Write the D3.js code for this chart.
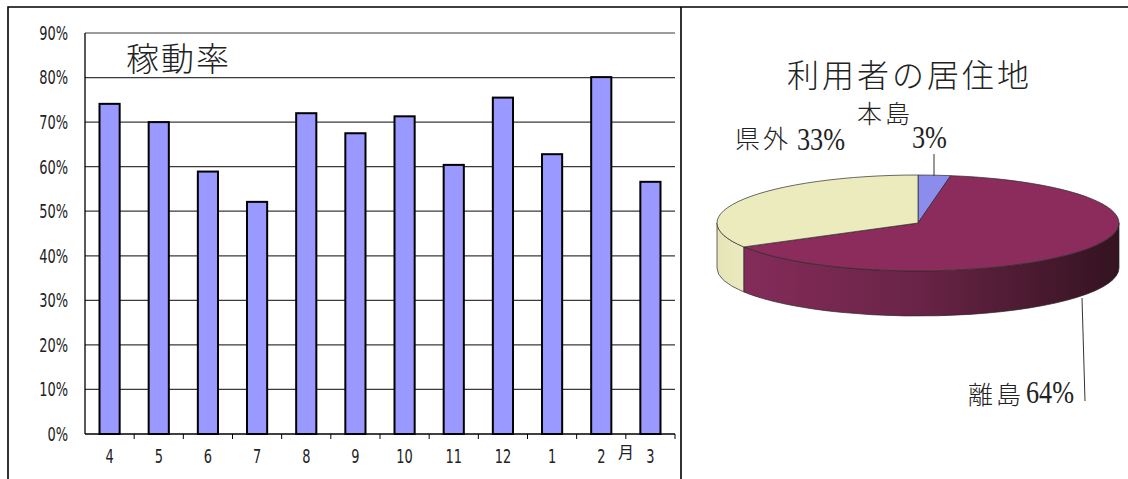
<!DOCTYPE html>
<html>
<head>
<meta charset="utf-8">
<script src="https://cdn.jsdelivr.net/npm/d3@7"></script>
<style>
  body { margin: 0; background: #fff; }
  svg { display: block; }
</style>
</head>
<body>
<div id="chart-area"></div>
<script>
const W = 1128, H = 479

// left: 稼動率 by month
const months = ['4', '5', '6', '7', '8', '9', '10', '11', '12', '1', '2', '3']
const rates = [74.1, 70.0, 58.9, 52.1, 72.0, 67.5, 71.3, 60.4, 75.5, 62.8, 80.1, 56.6]
const yTicks = [0, 10, 20, 30, 40, 50, 60, 70, 80, 90]

// right: 利用者の居住地
const places = ['本島', '離島', '県外']
const shares = [2.6, 64.1, 33.3]

const PLOT = { LEFT: 85, RIGHT: 675, TOP: 33, BOTTOM: 434 }

const svg = d3.select('#chart-area').append('svg')
    .attr('width', W)
    .attr('height', H)

const NUM_FONT = '"DejaVu Sans Condensed", "Liberation Sans", sans-serif'
const JP_FONT = '"Noto Sans CJK JP", sans-serif'
const SERIF = '"Liberation Serif", "DejaVu Serif", serif'

// tall, narrow text like the original fonts
const narrow = (sel, x, y, sx, sy) =>
    sel.attr('transform', `translate(${x},${y}) scale(${sx},${sy})`)

// frame
svg.append('path')
    .attr('d', `M8,${H} L8,7 L${W},7 M681,7 L681,${H}`)
    .attr('fill', 'none')
    .attr('stroke', '#000')
    .attr('stroke-width', 1.6)

// ---- bar chart ----
const x = d3.scaleBand()
    .domain(months)
    .range([PLOT.LEFT, PLOT.RIGHT])
    .paddingInner(0.59)
    .paddingOuter(0.295)

const y = d3.scaleLinear()
    .domain([0, 90])
    .range([PLOT.BOTTOM, PLOT.TOP])

const g = svg.append('g')

g.selectAll('line.grid')
    .data(yTicks.filter(d => d > 0))
    .enter().append('line')
    .attr('class', 'grid')
    .attr('x1', PLOT.LEFT)
    .attr('x2', PLOT.RIGHT)
    .attr('y1', d => y(d))
    .attr('y2', d => y(d))
    .attr('stroke', '#3a3a3a')
    .attr('stroke-width', 1.2)

g.selectAll('text.ytick')
    .data(yTicks)
    .enter().append('text')
    .attr('class', 'ytick')
    .each(function (d) { narrow(d3.select(this), 68, y(d), 0.9, 1.2) })
    .attr('dy', '0.36em')
    .attr('text-anchor', 'end')
    .attr('font-family', NUM_FONT)
    .attr('font-size', 16)
    .attr('fill', '#222')
    .text(d => d + '%')

g.append('text')
    .attr('x', 126)
    .attr('y', 57)
    .attr('dominant-baseline', 'central')
    .attr('font-family', JP_FONT)
    .attr('font-size', 33)
    .attr('font-weight', 300)
    .attr('letter-spacing', 2)
    .attr('fill', '#222')
    .text('稼動率')

g.selectAll('rect.bar')
    .data(rates)
    .enter().append('rect')
    .attr('class', 'bar')
    .attr('x', (d, i) => x(months[i]))
    .attr('width', x.bandwidth())
    .attr('y', d => y(d))
    .attr('height', d => y(0) - y(d))
    .attr('fill', '#9999ff')
    .attr('stroke', '#000')
    .attr('stroke-width', 2)

// axes lines
g.append('line')
    .attr('x1', PLOT.LEFT).attr('x2', PLOT.LEFT)
    .attr('y1', PLOT.TOP).attr('y2', PLOT.BOTTOM)
    .attr('stroke', '#000').attr('stroke-width', 1.3)
g.append('line')
    .attr('x1', PLOT.LEFT).attr('x2', PLOT.RIGHT)
    .attr('y1', PLOT.BOTTOM).attr('y2', PLOT.BOTTOM)
    .attr('stroke', '#000').attr('stroke-width', 1.3)

const step = x.step()
g.selectAll('line.xtick')
    .data(months)
    .enter().append('line')
    .attr('class', 'xtick')
    .attr('x1', (d, i) => PLOT.LEFT + step * (i + 1))
    .attr('x2', (d, i) => PLOT.LEFT + step * (i + 1))
    .attr('y1', PLOT.BOTTOM)
    .attr('y2', PLOT.BOTTOM + 5)
    .attr('stroke', '#000')

g.selectAll('text.xlabel')
    .data(months)
    .enter().append('text')
    .attr('class', 'xlabel')
    .each(function (d) { narrow(d3.select(this), x(d) + x.bandwidth() / 2, 456, 0.9, 1.2) })
    .attr('dy', '0.36em')
    .attr('text-anchor', 'middle')
    .attr('font-family', NUM_FONT)
    .attr('font-size', 16)
    .attr('fill', '#222')
    .text(d => d)

g.append('text')
    .attr('x', 626)
    .attr('y', 452)
    .attr('dy', '0.36em')
    .attr('text-anchor', 'middle')
    .attr('font-family', JP_FONT)
    .attr('font-size', 16)
    .attr('fill', '#222')
    .text('月')

// ---- 3D pie ----
const P = { cx: 918, cy: 223, rx: 201, ry: 48, depth: 45 }
const pt = (a, dy = 0) => [P.cx + P.rx * Math.sin(a), P.cy - P.ry * Math.cos(a) + dy]

const arcs = d3.pie().sort(null).startAngle(0).endAngle(2 * Math.PI)(shares)
const topColors = ['#8c8cec', '#8b2c5c', '#ebebbd']

const defs = svg.append('defs')
const gr = defs.append('linearGradient')
    .attr('id', 'sideRed')
    .attr('gradientUnits', 'userSpaceOnUse')
    .attr('x1', 745).attr('x2', P.cx + P.rx).attr('y1', 0).attr('y2', 0)
gr.append('stop').attr('offset', 0).attr('stop-color', '#842c5a')
gr.append('stop').attr('offset', 0.45).attr('stop-color', '#6a2447')
gr.append('stop').attr('offset', 1).attr('stop-color', '#341320')
const gy = defs.append('linearGradient')
    .attr('id', 'sideYel')
    .attr('gradientUnits', 'userSpaceOnUse')
    .attr('x1', P.cx - P.rx).attr('x2', 745).attr('y1', 0).attr('y2', 0)
gy.append('stop').attr('offset', 0).attr('stop-color', '#e4e4b6')
gy.append('stop').attr('offset', 1).attr('stop-color', '#ecebc0')
const sideFills = ['#6f6fc8', 'url(#sideRed)', 'url(#sideYel)']

const pie = svg.append('g')

// sides (front half only)
arcs.forEach((a, i) => {
    const s0 = Math.max(a.startAngle, Math.PI / 2)
    const s1 = Math.min(a.endAngle, 3 * Math.PI / 2)
    if (s1 <= s0) return
    const p0 = pt(s0), p1 = pt(s1)
    const q0 = pt(s0, P.depth), q1 = pt(s1, P.depth)
    const d = `M${p0} A${P.rx},${P.ry} 0 0 1 ${p1} L${q1} A${P.rx},${P.ry} 0 0 0 ${q0} Z`
    pie.append('path')
        .attr('d', d)
        .attr('fill', sideFills[i])
        .attr('stroke', '#2a2a2a')
        .attr('stroke-width', 0.7)
})

// tops
arcs.forEach((a, i) => {
    const p0 = pt(a.startAngle), p1 = pt(a.endAngle)
    const large = a.endAngle - a.startAngle > Math.PI ? 1 : 0
    const d = `M${P.cx},${P.cy} L${p0} A${P.rx},${P.ry} 0 ${large} 1 ${p1} Z`
    pie.append('path')
        .attr('d', d)
        .attr('fill', topColors[i])
        .attr('stroke', '#2a2a2a')
        .attr('stroke-width', 0.7)
})

svg.append('text')
    .attr('x', 787)
    .attr('y', 73)
    .attr('dominant-baseline', 'central')
    .attr('font-family', JP_FONT)
    .attr('font-size', 32)
    .attr('font-weight', 300)
    .attr('letter-spacing', 3)
    .attr('fill', '#222')
    .text('利用者の居住地')

const pct = v => Math.round(v) + '%'

// labels
const labels = [
    { name: places[0], nx: 857, px: 912, ny: 112, py: 137, lead: [[934, 154], [934, 176]] },
    { name: places[1], nx: 968, px: 1026, ny: 393, py: 392, lead: [[1082, 298], [1085, 401]] },
    { name: places[2], nx: 735, px: 797, ny: 137, py: 139, lead: null }
]

labels.forEach((l, i) => {
    svg.append('text')
        .attr('x', l.nx).attr('y', l.ny)
        .attr('dominant-baseline', 'central')
        .attr('font-family', JP_FONT)
        .attr('font-size', 25)
        .attr('font-weight', 300)
        .attr('letter-spacing', 3)
        .attr('fill', '#222')
        .text(l.name)
    svg.append('text')
        .call(narrow, l.px, l.py, 0.82, 1)
        .attr('dominant-baseline', 'central')
        .attr('font-family', SERIF)
        .attr('font-size', 32)
        .attr('fill', '#222')
        .text(pct(shares[i]))
    if (l.lead) {
        svg.append('line')
            .attr('x1', l.lead[0][0]).attr('y1', l.lead[0][1])
            .attr('x2', l.lead[1][0]).attr('y2', l.lead[1][1])
            .attr('stroke', '#333')
            .attr('stroke-width', 1)
    }
})
</script>
</body>
</html>
